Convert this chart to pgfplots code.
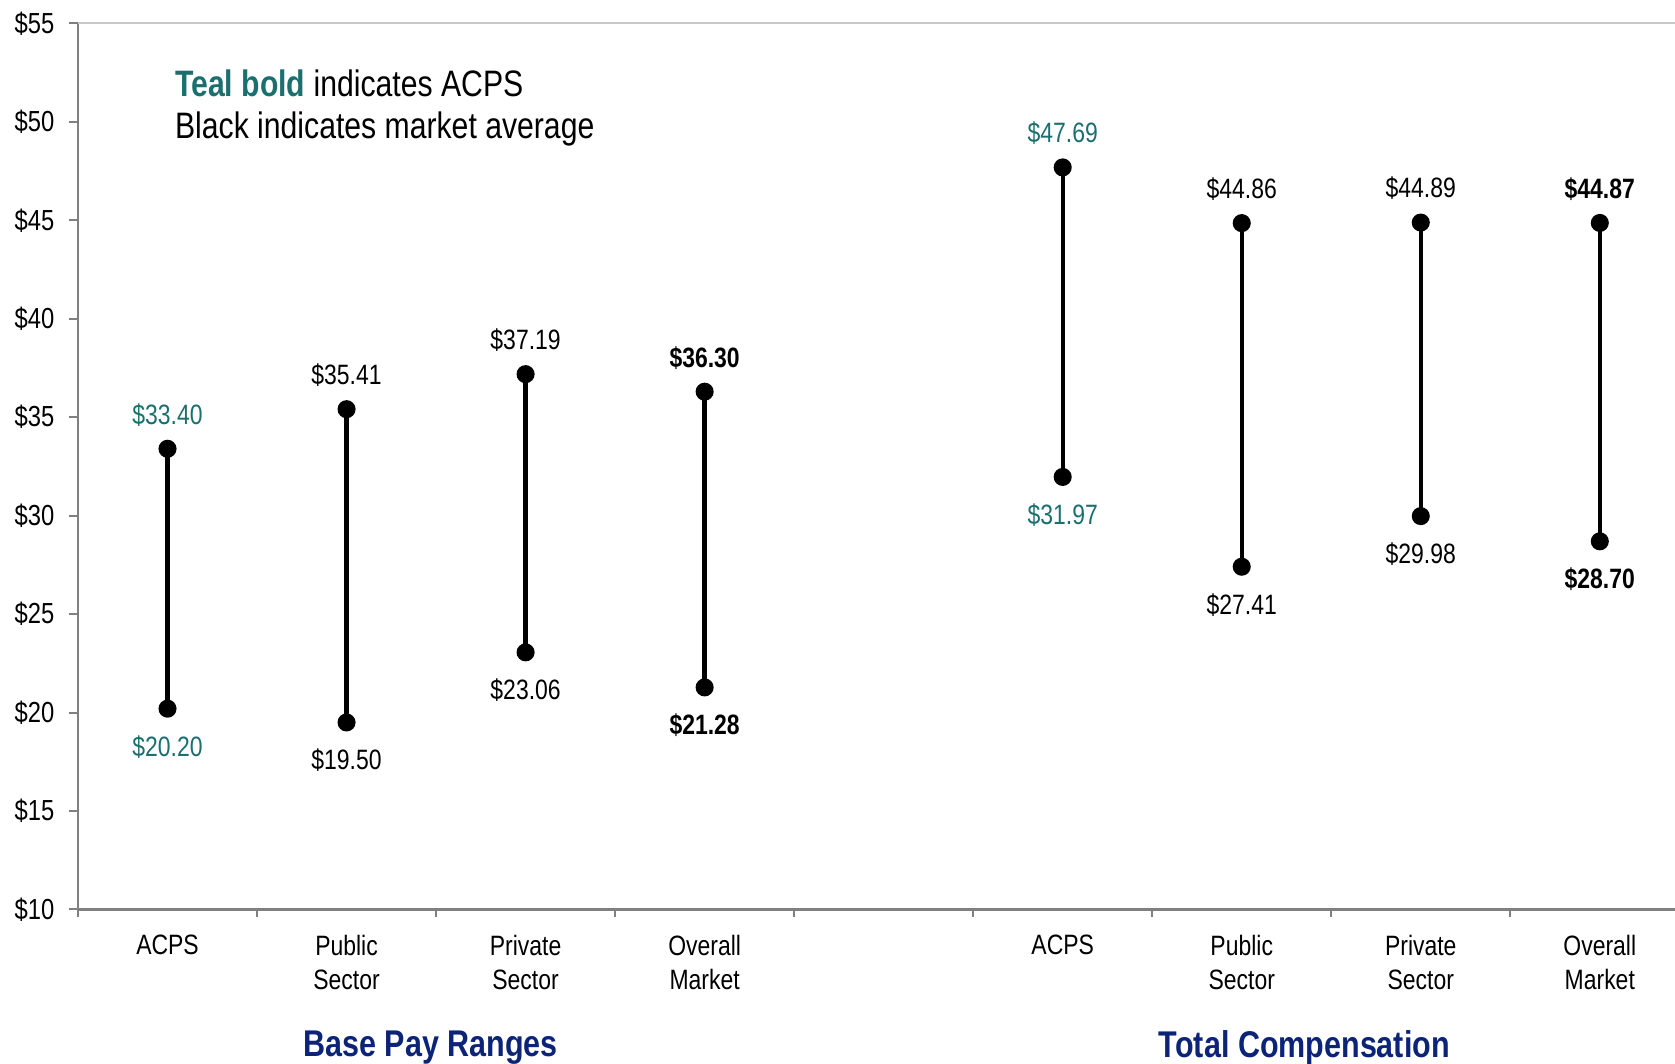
\documentclass[border=0pt]{standalone}
\usepackage{fontspec}
\setmainfont{Liberation Sans}[FakeStretch=0.82]
\usepackage{pgfplots}
\pgfplotsset{compat=1.18}
\definecolor{acpsteal}{RGB}{27,111,110}
\definecolor{titlenavy}{RGB}{12,36,120}
\definecolor{axisgray}{RGB}{128,128,128}
\definecolor{framegray}{RGB}{200,200,200}

% one pay range: low point first, high point second; labels below / above
\pgfplotsset{
  range/.style={
    black, line width=2.2pt, mark=*, mark size=3.4pt,
    mark options={solid, fill=black},
    point meta=y,
    visualization depends on={value \coordindex \as \idx},
    nodes near coords={\$\pgfmathprintnumber[fixed,fixed zerofill,precision=2]{\pgfplotspointmeta}},
    every node near coord/.style={anchor=center, yshift={ifthenelse(\idx==0,-19,17)*1pt},
      font=\fontsize{14}{16}\selectfont, #1},
  },
  range/.default={},
}

\begin{document}
\begin{tikzpicture}
\begin{axis}[
  scale only axis, width=798.5pt, height=443pt,
  xmin=-0.5, xmax=8.42, ymin=10, ymax=55,
  clip=false,
  axis x line*=bottom, axis y line*=left,
  x axis line style={axisgray, line width=1.6pt},
  y axis line style={axisgray, line width=1pt},
  /pgf/number format/assume math mode=true,
  tick align=outside,
  ytick={10,15,20,25,30,35,40,45,50,55},
  yticklabels={\$10,\$15,\$20,\$25,\$30,\$35,\$40,\$45,\$50,\$55},
  major y tick style={axisgray, line width=1pt},
  major tick length=4.3pt,
  xtick={0,1,2,3,5,6,7,8},
  xticklabels={ACPS,Public\\Sector,Private\\Sector,Overall\\Market,
               ACPS,Public\\Sector,Private\\Sector,Overall\\Market},
  major x tick style={draw=none},
  minor xtick={-0.5,0.5,1.5,2.5,3.5,4.5,5.5,6.5,7.5},
  minor x tick style={axisgray, line width=1pt},
  minor tick length=3.7pt,
  xticklabel style={align=center, font=\fontsize{14}{17}\selectfont, anchor=north, yshift=-5pt},
  yticklabel style={font=\fontsize{14.5}{16}\selectfont, xshift=-4pt},
]
% top frame line
\draw[framegray, line width=1pt] (rel axis cs:0,1) -- (rel axis cs:1,1);

% Base pay ranges
\addplot[range={text=acpsteal}] coordinates {(0,20.20) (0,33.40)};
\addplot[range] coordinates {(1,19.50) (1,35.41)};
\addplot[range] coordinates {(2,23.06) (2,37.19)};
\addplot[range={font=\fontsize{14}{16}\selectfont\bfseries}] coordinates {(3,21.28) (3,36.30)};

% Total compensation ranges
\addplot[range={text=acpsteal}] coordinates {(5,31.97) (5,47.69)};
\addplot[range] coordinates {(6,27.41) (6,44.86)};
\addplot[range] coordinates {(7,29.98) (7,44.89)};
\addplot[range={font=\fontsize{14}{16}\selectfont\bfseries}] coordinates {(8,28.70) (8,44.87)};

% key text
\node[anchor=west, font=\fontsize{18.4}{20}\selectfont, inner sep=0pt] at (axis cs:0.04,51.96)
  {\textcolor{acpsteal}{\bfseries Teal bold} indicates ACPS};
\node[anchor=west, font=\fontsize{18.4}{20}\selectfont, inner sep=0pt] at (axis cs:0.04,49.65)
  {Black indicates market average};

% group titles
\node[font=\fontsize{18.6}{20}\selectfont\bfseries, text=titlenavy] at (axis cs:1.47,10) [yshift=-69pt] {Base Pay Ranges};
\node[font=\fontsize{18.6}{20}\selectfont\bfseries, text=titlenavy] at (axis cs:6.35,10) [yshift=-69pt] {Total Compensation};
\end{axis}
\pgfresetboundingbox
\path[use as bounding box] (-39pt,-77pt) rectangle (798.5pt,454.75pt);
\end{tikzpicture}
\end{document}
